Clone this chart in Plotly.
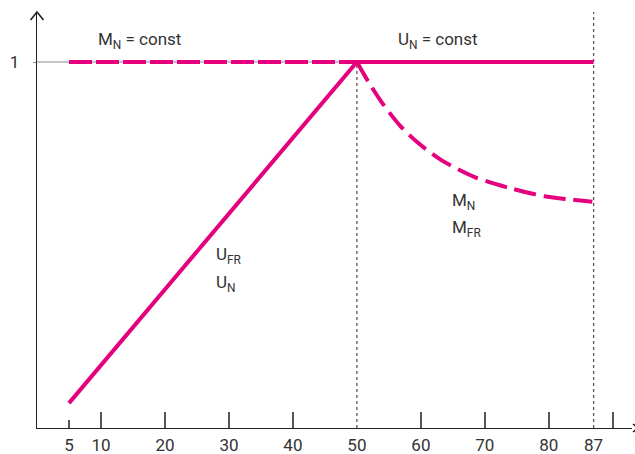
import plotly.graph_objects as go

# ---- data ----
u_x = [5, 50, 87]                 # U_FR / U_N (solid)
u_y = [0.068, 1.0, 1.0]
mn_x = [5, 50]                    # M_N = const (dashed)
mn_y = [1.0, 1.0]
mfr_x = [50, 52, 54, 56.8, 59.5, 63.2, 68.5, 74, 79.3, 83, 86.8]   # M_N / M_FR (dashed)
mfr_y = [1.0, 0.94, 0.887, 0.825, 0.780, 0.732, 0.685, 0.655, 0.633, 0.625, 0.618]
x_major = [10, 20, 30, 40, 60, 70, 80, 90]
x_major_text = ["10", "20", "30", "40", "60", "70", "80", ""]
x_start = [5]
x_marks = [50, 87]
y_ticks = [1]

MAG = "#e5007d"
TXT = "#333333"
FONT = "Roboto"
XR = [0, 93]
YR = [0, 1.1366]

fig = go.Figure()
fig.add_trace(go.Scatter(x=mn_x, y=mn_y, mode="lines",
                         line=dict(color=MAG, width=4, dash="23px,4px"), hoverinfo="skip"))
fig.add_trace(go.Scatter(x=mfr_x, y=mfr_y, mode="lines", line_shape="spline",
                         line=dict(color=MAG, width=4, dash="22px,8px", smoothing=0.8),
                         hoverinfo="skip"))
fig.add_trace(go.Scatter(x=u_x, y=u_y, mode="lines",
                         line=dict(color=MAG, width=4), hoverinfo="skip"))
# empty traces to register overlay axes
fig.add_trace(go.Scatter(x=[], y=[], xaxis="x2", hoverinfo="skip"))
fig.add_trace(go.Scatter(x=[], y=[], xaxis="x3", hoverinfo="skip"))

# reference lines
fig.add_shape(type="line", xref="x", yref="y", x0=0, x1=mn_x[-1], y0=mn_y[0], y1=mn_y[0],
              line=dict(color="#8a8a8a", width=1), layer="below")
fig.add_shape(type="line", xref="x", yref="y", x0=x_marks[0], x1=x_marks[0], y0=0, y1=u_y[1],
              line=dict(color="#555555", width=1.3, dash="dot"), layer="below")
fig.add_shape(type="line", xref="x", yref="paper", x0=x_marks[1], x1=x_marks[1], y0=0, y1=1,
              line=dict(color="#555555", width=1.3, dash="dot"), layer="below")

# axis arrows
fig.add_shape(type="path", xref="paper", xsizemode="pixel", xanchor=0,
              yref="paper", ysizemode="pixel", yanchor=1,
              path="M -6.5,-8 L 0,0 L 6.5,-8", line=dict(color="#222222", width=1.6))
fig.add_shape(type="path", xref="paper", xsizemode="pixel", xanchor=1,
              yref="paper", ysizemode="pixel", yanchor=0,
              path="M 1,4 L 6,0 L 1,-4", line=dict(color="#222222", width=1.6))

# annotations
def ann(x, y, text, xanchor="center"):
    fig.add_annotation(x=x, y=y, xref="x", yref="y", text=text, showarrow=False,
                       xanchor=xanchor, yanchor="middle",
                       font=dict(family=FONT, size=17, color=TXT))

ann(16.0, 1.06, "M<sub>N</sub> = const")
ann(62.7, 1.06, "U<sub>N</sub> = const")
ann(64.6, 0.62, "M<sub>N</sub>", "left")
ann(64.6, 0.546, "M<sub>FR</sub>", "left")
ann(27.7, 0.47, "U<sub>FR</sub>", "left")
ann(27.7, 0.396, "U<sub>N</sub>", "left")

tickfont = dict(family=FONT, size=17, color=TXT)
common_x = dict(range=XR, showgrid=False, zeroline=False, showline=True, linecolor="#222222",
                linewidth=1.4, tickmode="array", tickfont=tickfont, ticklabelstandoff=1,
                automargin=False, tickcolor="#555555", tickwidth=1.5)
fig.update_layout(
    width=635, height=454,
    margin=dict(l=37, r=3, t=12, b=26, autoexpand=False),
    paper_bgcolor="white", plot_bgcolor="white",
    showlegend=False,
    xaxis=dict(**common_x, tickvals=x_major, ticktext=x_major_text,
               ticks="inside", ticklen=16),
    xaxis2=dict(**common_x, overlaying="x", anchor="y", side="bottom",
                tickvals=x_start, ticktext=[str(v) for v in x_start],
                ticks="inside", ticklen=8),
    xaxis3=dict(**common_x, overlaying="x", anchor="y", side="bottom",
                tickvals=x_marks, ticktext=[str(v) for v in x_marks], ticks=""),
    yaxis=dict(range=YR, showgrid=False, zeroline=False, showline=True, linecolor="#222222",
               linewidth=1.4, tickmode="array", tickvals=y_ticks, ticktext=["1"],
               ticks="outside", ticklen=3, tickcolor="#8a8a8a", tickwidth=1,
               tickfont=tickfont, ticklabelstandoff=10, automargin=False),
)
fig.write_html("out.html", config={"displayModeBar": False},
               post_script="document.body.style.margin='0';")
